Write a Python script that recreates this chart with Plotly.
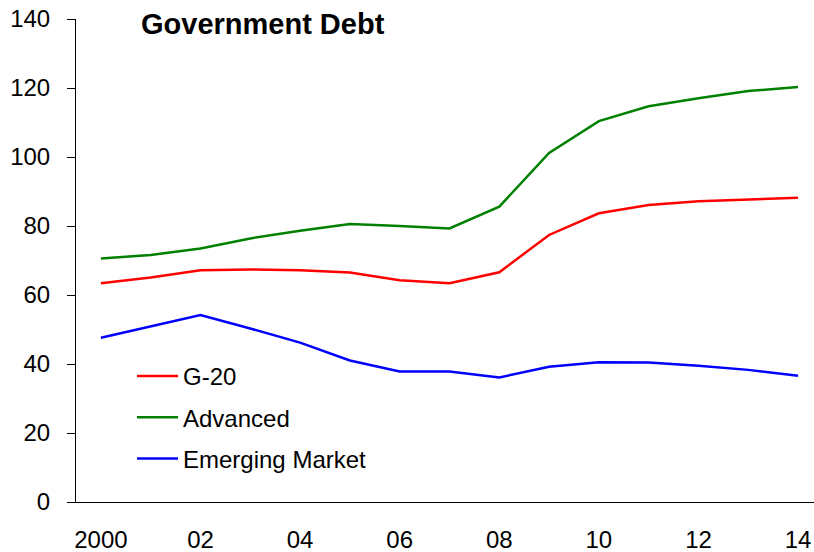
import plotly.graph_objects as go

years = list(range(2000, 2015))
g20 = [63.4, 65.1, 67.2, 67.4, 67.2, 66.5, 64.3, 63.4, 66.6, 77.4, 83.7, 86.1, 87.2, 87.8, 88.2]
advanced = [70.6, 71.6, 73.5, 76.4, 78.6, 80.6, 80.0, 79.3, 85.6, 101.2, 110.4, 114.7, 117.0, 119.1, 120.3]
emerging = [47.6, 50.8, 54.2, 50.3, 46.2, 41.0, 37.8, 37.8, 36.1, 39.2, 40.5, 40.4, 39.5, 38.3, 36.6]

tick_vals = [2000, 2002, 2004, 2006, 2008, 2010, 2012, 2014]
tick_text = ["2000", "02", "04", "06", "08", "10", "12", "14"]
y_ticks = [0, 20, 40, 60, 80, 100, 120, 140]

series = [("G-20", g20, "#FF0000"), ("Advanced", advanced, "#008000"), ("Emerging Market", emerging, "#0000FF")]

fig = go.Figure()
for i, (name, vals, col) in enumerate(series):
    fig.add_trace(go.Scatter(x=years, y=vals, name=name, mode="lines",
                             line=dict(color=col, width=2.5), legendgroup=str(i)))

font_family = "Liberation Sans, Arial, sans-serif"
L, T, W, H = 76, 19, 738, 483
fig.update_layout(
    width=814, height=552,
    margin=dict(l=L, r=0, t=T, b=50, autoexpand=False),
    paper_bgcolor="white", plot_bgcolor="white",
    font=dict(family=font_family, size=24, color="black"),
    showlegend=True,
    legend=dict(x=(132 - L) / W, y=1 - (354 - T) / H, xanchor="left", yanchor="top",
                bgcolor="rgba(0,0,0,0)", font=dict(size=24), tracegroupgap=7,
                traceorder="grouped", itemwidth=41),
    annotations=[dict(text="<b>Government Debt</b>", x=(139 - L) / W, y=1 + (T - 24) / H,
                      xref="paper", yref="paper", xanchor="left", yanchor="middle",
                      showarrow=False, font=dict(size=29))],
)

fig.update_xaxes(range=[1999.5, 2014.32], tickvals=tick_vals, ticktext=tick_text,
                 showline=True, linecolor="black", linewidth=1, ticks="", showgrid=False,
                 zeroline=False, ticklabelstandoff=16, tickfont=dict(size=24), automargin=False)
fig.update_yaxes(range=[0, 140], tickvals=y_ticks, showline=True, linecolor="black", linewidth=1,
                 ticks="outside", ticklen=8, tickcolor="black", showgrid=False, zeroline=False,
                 ticklabelstandoff=12, tickfont=dict(size=24), automargin=False)

fig.write_html("out.html")
